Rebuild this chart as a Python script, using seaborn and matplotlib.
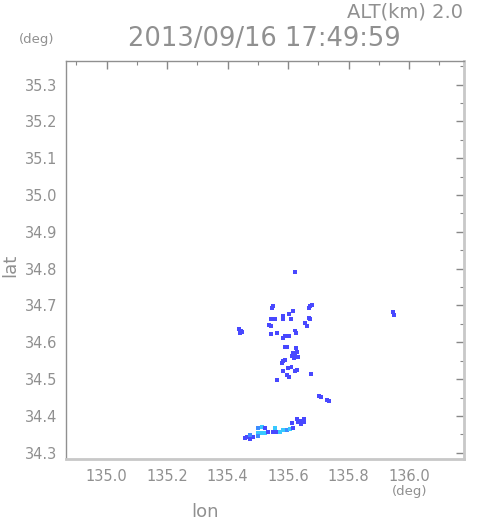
import seaborn as sns
import pandas as pd
import matplotlib.pyplot as plt
from matplotlib.ticker import MultipleLocator

sns.set_style('white')
plt.rcParams['font.family'] = ['DejaVu Sans']

# lightning source positions
lon = [135.622,
       135.443, 135.439, 135.446, 135.441,
       135.550, 135.546,
       135.672, 135.678, 135.669,
       135.669, 135.672, 135.655, 135.662,
       135.615, 135.602, 135.583, 135.609, 135.582, 135.542, 135.556,
       135.537, 135.543, 135.622, 135.626, 135.564, 135.542,
       135.590, 135.603, 135.584,
       135.589, 135.596, 135.626,
       135.622, 135.615, 135.629, 135.618, 135.632, 135.612,
       135.584, 135.589, 135.579, 135.611, 135.622, 135.629,
       135.584, 135.600, 135.595, 135.603, 135.677, 135.564,
       135.703, 135.708, 135.729, 135.735,
       135.641, 135.629, 135.652, 135.632, 135.652, 135.642, 135.613,
       135.947, 135.949,
       135.463, 135.457, 135.474, 135.484, 135.474, 135.501, 135.512,
       135.500, 135.523, 135.534, 135.549, 135.562, 135.573, 135.584,
       135.595, 135.606, 135.617,
       135.501, 135.513, 135.523, 135.556]
lat = [34.792,
       34.632, 34.637, 34.629, 34.626,
       34.698, 34.692,
       34.698, 34.702, 34.692,
       34.667, 34.662, 34.653, 34.645,
       34.686, 34.677, 34.671, 34.662, 34.662, 34.662, 34.662,
       34.648, 34.645, 34.632, 34.626, 34.625, 34.623,
       34.618, 34.618, 34.612,
       34.587, 34.588, 34.584,
       34.566, 34.572, 34.574, 34.558, 34.561, 34.563,
       34.548, 34.553, 34.544, 34.534, 34.523, 34.525,
       34.521, 34.530, 34.512, 34.505, 34.514, 34.498,
       34.454, 34.452, 34.444, 34.441,
       34.387, 34.392, 34.392, 34.384, 34.384, 34.378, 34.380,
       34.683, 34.675,
       34.344, 34.339, 34.337, 34.344, 34.348, 34.353, 34.354,
       34.346, 34.353, 34.357, 34.357, 34.356, 34.357, 34.362,
       34.362, 34.365, 34.366,
       34.366, 34.369, 34.367, 34.368]
level = (['b'] * 64 +
         ['b', 'b', 'b', 'b', 'm', 'c', 'c',
          'm', 'c', 'b', 'b', 'b', 'c', 'c',
          'm', 'c', 'b',
          'm', 'c', 'b', 'c'])

df = pd.DataFrame({'lon': lon, 'lat': lat, 'level': level})
colors = {'b': '#4848ff', 'm': '#3c8cff', 'c': '#38c8ff'}

fig = plt.figure(figsize=(4.91, 5.21), dpi=100)
ax = fig.add_axes([66 / 491, 62 / 521, 398 / 491, 398 / 521])

sns.scatterplot(data=df, x='lon', y='lat', hue='level', palette=colors,
                marker='s', s=8, linewidth=0, legend=False, ax=ax)

ax.set_xlim(134.866, 136.181)
ax.set_ylim(34.283, 35.364)
ax.xaxis.set_major_locator(MultipleLocator(0.2))
ax.xaxis.set_minor_locator(MultipleLocator(0.1))
ax.yaxis.set_major_locator(MultipleLocator(0.1))
ax.yaxis.set_minor_locator(MultipleLocator(0.05))
ax.xaxis.set_major_formatter(lambda v, p: f'{v:.1f}')
ax.yaxis.set_major_formatter(lambda v, p: f'{v:.1f}')
ax.tick_params(which='both', direction='in', top=True, right=True,
               colors='#888888', labelcolor='#909090', labelsize=10.5)
ax.tick_params(which='major', length=6, width=1)
ax.tick_params(which='minor', length=3, width=0.8)
ax.tick_params(axis='x', pad=7)
ax.tick_params(axis='y', pad=6)
ax.set_xlabel('')
ax.set_ylabel('')
for side in ['top', 'left']:
    ax.spines[side].set_color('#909090')
    ax.spines[side].set_linewidth(1)
for side in ['bottom', 'right']:
    ax.spines[side].set_color('#c8c8c8')
    ax.spines[side].set_linewidth(2)

gray = '#909090'
fig.text(463 / 491, 1 - 12 / 521, 'ALT(km) 2.0', ha='right', va='center',
         fontsize=14, color=gray)
fig.text(264 / 491, 1 - 39 / 521, '2013/09/16 17:49:59', ha='center',
         va='center', fontsize=18.5, color=gray)
fig.text(37 / 491, 1 - 40 / 521, '(deg)', ha='center', va='center',
         fontsize=9.5, color=gray)
fig.text(410 / 491, 1 - 491 / 521, '(deg)', ha='center', va='center',
         fontsize=9.5, color=gray)
fig.text(205 / 491, 1 - 512 / 521, 'lon', ha='center', va='center',
         fontsize=13, color=gray)
fig.text(10 / 491, 1 - 265 / 521, 'lat', ha='center', va='center',
         rotation=90, fontsize=13, color=gray)

fig.savefig('out.png', dpi=100)
